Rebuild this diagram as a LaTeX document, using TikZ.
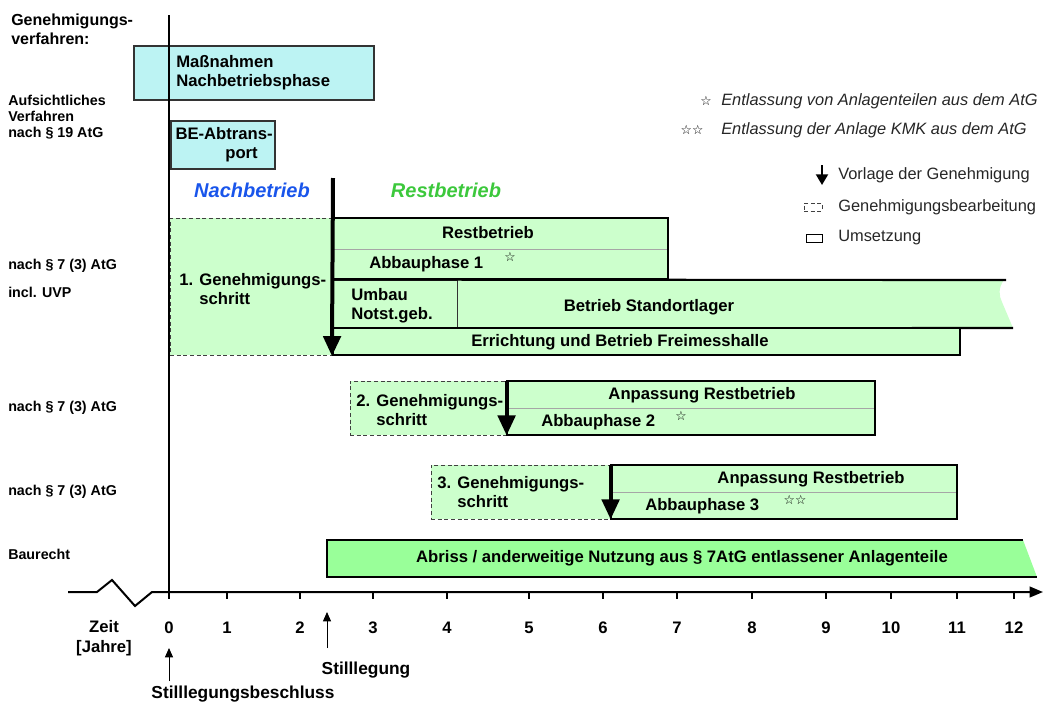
\documentclass[tikz,border=0pt]{standalone}
\usepackage{fontspec}
\setmainfont{Liberation Sans}
\newfontfamily\symfont{DejaVu Sans}
\usetikzlibrary{fit, calc, positioning, arrows.meta}
\definecolor{Hellgruen}{RGB}{204,255,204}
\definecolor{Abrissgruen}{RGB}{153,255,153}
\definecolor{Hellcyan}{RGB}{188,243,243}
\definecolor{Nachblau}{RGB}{25,85,235}
\definecolor{Restgruen}{RGB}{60,200,60}

\begin{document}
\begin{tikzpicture}[
  x=0.75pt, y=-0.75pt,
  achse/.style={line width=1.5pt, black},
  feld/.style={
    rectangle, draw=gray!70, line width=0.6pt,
    fill=Hellgruen, inner sep=0pt
  },
  antrag/.style={
    rectangle, draw=black!75, dash pattern=on 3pt off 2pt,
    line width=0.6pt, fill=Hellgruen, inner sep=0pt
  },
  aufsicht/.style={
    rectangle, draw=black!80, line width=0.8pt,
    fill=Hellcyan, inner sep=0pt
  },
  rahmen/.style={draw=black, line width=1.6pt},
  vorlage/.style={line width=3pt, -{Triangle[length=15pt,width=13pt]}},
  zeitpfeil/.style={line width=0.7pt, -{Triangle[length=7pt,width=6pt]}},
  txt/.style={font=\fontsize{12.5}{14}\selectfont\bfseries, inner sep=0pt},
  zeile/.style={font=\fontsize{10.7}{12}\selectfont\bfseries, anchor=west,
    align=left, inner sep=0pt},
  leg/.style={font=\fontsize{12.3}{14}\selectfont, text=black!85,
    anchor=west, inner sep=0pt},
  legi/.style={leg, font=\fontsize{12.3}{14}\selectfont\itshape},
  stern/.style={font=\symfont\fontsize{9.5}{10}\selectfont, inner sep=0pt}
]
\useasboundingbox (0,0) rectangle (1043,704);

%% ── Zeilenbeschriftung links ───────────────────────────────────────────────
\node[font=\fontsize{12}{14}\selectfont\bfseries, anchor=west, align=left,
      inner sep=0pt] (gv) at (11,29) {Genehmigungs-\\verfahren:};
\node[zeile] (av)  at (8,117) {Aufsichtliches\\Verfahren\\nach § 19 AtG};
\node[zeile] (p7a) at (8,266) {nach § 7 (3) AtG};
\node[zeile] (uvp) at (8,292) {incl. UVP};
\node[zeile] (p7b) at (8,408) {nach § 7 (3) AtG};
\node[zeile] (p7c) at (8,492) {nach § 7 (3) AtG};
\node[zeile] (bau) at (8,554) {Baurecht};

%% ── Aufsichtliches Verfahren ───────────────────────────────────────────────
\node[aufsicht, fit={(134,46) (374,100)}] (mnp) {};
\node[txt, anchor=west, align=left] (mnpt) at (176,73) {Maßnahmen\\Nachbetriebsphase};
\node[aufsicht, fit={(171,121) (275,169)}] (bea) {};
\node[txt, anchor=east, align=right] (beat) at (273,145) {BE-Abtrans-\\port\hspace*{0.9em}};

\node[font=\fontsize{15}{18}\selectfont\bfseries\itshape, text=Nachblau,
      inner sep=0pt] (nbh) at (252,190) {Nachbetrieb};
\node[font=\fontsize{15}{18}\selectfont\bfseries\itshape, text=Restgruen,
      inner sep=0pt] (rbh) at (446,190) {Restbetrieb};

%% ── 1. Genehmigungsschritt ─────────────────────────────────────────────────
\node[antrag, fit={(170,218) (333,355)}] (gs1) {};
\node[txt, anchor=west, align=left] (gs1t) at (179,289) {1. Genehmigungs-\\\hphantom{1. }schritt};

\node[feld, fit={(333,218) (668,249)}] (rb) {};
\node[feld, fit={(333,249) (668,279)}] (ab1) {};
\draw[rahmen] (rb.north west) rectangle (ab1.south east);
\node[txt] (rbt) at (488,233) {Restbetrieb};
\node[txt, anchor=west] (ab1t) at (369,264) {Abbauphase 1};
\node[stern] (s1) at (510,257) {☆};

\fill[Hellgruen] (457,280) -- (1004,280) .. controls (998,288) and (999,296) .. (1002,302)
  -- (1013,328) -- (457,328) -- cycle;
\node[feld, draw=black!80, fit={(333,280) (457,328)}] (umb) {};
\draw[rahmen] (umb.north west) -- (1006,280);
\draw[rahmen] (umb.south west) -- (1013,328);
\node[txt, anchor=west, align=left] (umbt) at (351,306) {Umbau\\Notst.geb.};
\node[txt] (bsl) at (649,307) {Betrieb Standortlager};

\node[feld, rahmen, fit={(333,328) (960,355)}] (erb) {};
\node[txt] (erbt) at (620,342) {Errichtung und Betrieb Freimesshalle};

\coordinate (v1) at (333,178);
\draw[vorlage] (v1) -- (erb.south west);

%% ── 2. Genehmigungsschritt ─────────────────────────────────────────────────
\node[antrag, fit={(350,381) (507,435)}] (gs2) {};
\node[txt, anchor=west, align=left] (gs2t) at (356,410) {2. Genehmigungs-\\\hphantom{2. }schritt};
\node[feld, fit={(507,381) (875,408)}] (ar2) {};
\node[feld, fit={(507,408) (875,435)}] (ab2) {};
\draw[rahmen] (ar2.north west) rectangle (ab2.south east);
\node[txt] (ar2t) at (702,395) {Anpassung Restbetrieb};
\node[txt, anchor=west] (ab2t) at (541,422) {Abbauphase 2};
\node[stern] (s2) at (681,416) {☆};
\draw[vorlage] (ar2.north west) -- (ab2.south west);

%% ── 3. Genehmigungsschritt ─────────────────────────────────────────────────
\node[antrag, fit={(431,465) (611,519)}] (gs3) {};
\node[txt, anchor=west, align=left] (gs3t) at (437,492) {3. Genehmigungs-\\\hphantom{3. }schritt};
\node[feld, fit={(611,465) (957,492)}] (ar3) {};
\node[feld, fit={(611,492) (957,519)}] (ab3) {};
\draw[rahmen] (ar3.north west) rectangle (ab3.south east);
\node[txt] (ar3t) at (811,479) {Anpassung Restbetrieb};
\node[txt, anchor=west] (ab3t) at (645,506) {Abbauphase 3};
\node[stern] (s3) at (795,500) {☆☆};
\draw[vorlage] (ar3.north west) -- (ab3.south west);

%% ── Baurecht ───────────────────────────────────────────────────────────────
\fill[Abrissgruen] (327,540) -- (1023,540) -- (1037,577) -- (327,577) -- cycle;
\draw[rahmen] (1023,540) -- (327,540) -- (327,577) -- (1037,577);
\node[txt] (abr) at (682,558) {Abriss / anderweitige Nutzung aus § 7AtG entlassener Anlagenteile};

%% ── Achsen ─────────────────────────────────────────────────────────────────
\draw[achse] (169,15) -- (169,596);
\draw[achse, -{Triangle[length=10pt,width=8pt]}]
  (68,592) -- (97,592) -- (112,580) -- (135,606) -- (152,592) -- (1043,592);
\foreach \x/\j in {169/0,227/1,300/2,373/3,447/4,529/5,603/6,677/7,
                   752/8,826/9,891/10,957/11,1014/12}{
  \draw[achse] (\x,592) -- (\x,599);
  \node[txt] (j\j) at (\x,628) {\j};
}
\node[font=\fontsize{12.5}{15}\selectfont\bfseries, align=center,
      inner sep=0pt] (zeit) at (104,638) {Zeit\\{[Jahre]}};

\node[font=\fontsize{13}{15}\selectfont\bfseries, inner sep=0pt] (slb) at (243,694) {Stilllegungsbeschluss};
\node[font=\fontsize{13}{15}\selectfont\bfseries, inner sep=0pt] (sl)  at (366,670) {Stilllegung};
\coordinate (beschluss) at (169,681);
\coordinate (stilllg)   at (327,648);
\draw[zeitpfeil] (beschluss) -- ++(0,-33);
\draw[zeitpfeil] (stilllg)   -- ++(0,-36);

%% ── Legende ────────────────────────────────────────────────────────────────
\node[stern] (ls1) at (706,101) {☆};
\node[legi] (lt1) at (721,101) {Entlassung von Anlagenteilen aus dem AtG};
\node[stern] (ls2) at (692,130) {☆☆};
\node[legi] (lt2) at (721,130) {Entlassung der Anlage KMK aus dem AtG};
\coordinate (lv) at (822,165);
\draw[vorlage, line width=1.5pt, -{Triangle[length=8pt,width=9pt]}] (lv) -- ++(0,20);
\node[leg] (lt3) at (838,175) {Vorlage der Genehmigung};
\node[antrag, fill=none, fit={(804,203) (822,211)}] (lab) {};
\node[leg] (lt4) at (838,207) {Genehmigungsbearbeitung};
\node[rectangle, draw=black, line width=0.6pt, inner sep=0pt,
      fit={(806,234) (822,242)}] (lum) {};
\node[leg] (lt5) at (838,238) {Umsetzung};

\end{tikzpicture}
\end{document}
